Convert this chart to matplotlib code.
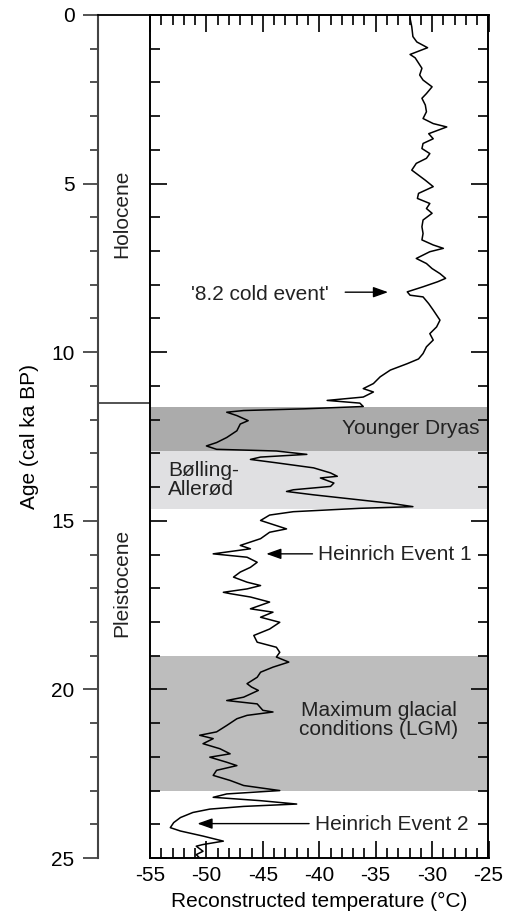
import matplotlib
matplotlib.use("Agg")
import matplotlib.pyplot as plt
from matplotlib.ticker import MultipleLocator

plt.rcParams['font.family'] = ['Liberation Sans', 'DejaVu Sans']
plt.rcParams['axes.unicode_minus'] = False
FS = 15

# reconstructed temperature curve (age in cal ka BP, temperature in °C)
age = [0.10, 0.35, 0.64, 0.80, 0.97, 1.17, 1.27, 1.58, 1.78, 1.93, 2.13, 2.33, 2.47,
       2.67, 2.87, 3.07, 3.22, 3.32, 3.52, 3.67, 3.81, 3.96, 4.11, 4.25, 4.40, 4.60,
       4.70, 4.90, 5.09, 5.29, 5.44, 5.59, 5.74, 5.88, 6.08, 6.28, 6.48, 6.67, 6.82,
       6.92, 7.02, 7.22, 7.37, 7.52, 7.67, 7.81, 7.91, 8.06, 8.21, 8.31, 8.36, 8.56,
       8.75, 8.95, 9.05, 9.25, 9.45, 9.64, 9.84, 10.04, 10.20, 10.34, 10.53, 10.73,
       10.93, 11.08, 11.18, 11.33, 11.43, 11.51, 11.61, 11.68, 11.73, 11.78, 11.88,
       12.03, 12.13, 12.33, 12.53, 12.68, 12.78, 12.88, 12.93, 13.03, 13.11, 13.18,
       13.28, 13.43, 13.58, 13.68, 13.73, 13.88, 13.98, 14.08, 14.13, 14.23, 14.38,
       14.48, 14.58, 14.63, 14.73, 14.83, 14.99, 15.24, 15.34, 15.53, 15.73, 15.83,
       15.98, 16.08, 16.23, 16.38, 16.52, 16.67, 16.82, 16.92, 17.02, 17.12, 17.16,
       17.26, 17.41, 17.61, 17.71, 17.86, 18.01, 18.21, 18.40, 18.60, 18.75, 18.90,
       19.04, 19.19, 19.34, 19.49, 19.64, 19.83, 19.93, 20.03, 20.23, 20.33, 20.43,
       20.62, 20.67, 20.77, 20.87, 21.07, 21.26, 21.36, 21.46, 21.61, 21.76, 21.91,
       22.01, 22.16, 22.26, 22.40, 22.55, 22.70, 22.85, 23.00, 23.10, 23.20, 23.30,
       23.40, 23.47, 23.55, 23.65, 23.80, 23.95, 24.10, 24.20, 24.35, 24.50, 24.60,
       24.65, 24.80, 24.90, 25.00]
temp = [-31.95, -31.8, -31.7, -31.35, -30.4, -31.95, -31.5, -30.9, -31.1, -30.8, -30.0,
        -30.5, -30.9, -30.6, -30.5, -30.8, -29.9, -28.7, -30.3, -29.9, -30.8, -30.9,
        -30.2, -30.5, -31.4, -31.8, -31.4, -30.6, -29.9, -31.2, -31.3, -30.2, -30.5,
        -30.0, -30.8, -30.9, -30.8, -30.9, -29.9, -29.0, -30.2, -31.4, -30.5, -30.0,
        -29.3, -28.8, -29.5, -30.8, -32.2, -31.95, -30.8, -30.3, -29.9, -29.5, -29.3,
        -29.6, -30.2, -29.9, -30.5, -30.8, -31.2, -32.2, -33.7, -34.6, -35.2, -36.1,
        -35.2, -36.1, -39.3, -36.4, -36.1, -41.4, -46.7, -48.2, -47.3, -46.3, -47.0,
        -47.3, -48.2, -49.1, -50.0, -49.1, -43.8, -41.1, -45.2, -46.1, -43.8, -40.5,
        -39.0, -38.4, -39.9, -38.7, -39.0, -42.3, -42.9, -40.5, -36.4, -33.7, -31.7,
        -36.4, -42.3, -44.4, -45.2, -42.9, -44.4, -45.2, -47.0, -46.1, -49.4, -46.4,
        -45.5, -46.1, -47.0, -47.6, -46.4, -45.2, -46.4, -48.5, -47.9, -46.1, -44.4,
        -46.1, -44.1, -45.2, -43.5, -44.4, -45.8, -45.5, -43.8, -43.5, -43.8, -42.7,
        -44.1, -45.2, -45.5, -46.4, -46.0, -45.4, -46.7, -48.2, -45.5, -45.0, -44.1,
        -46.4, -47.3, -48.2, -49.1, -50.6, -49.4, -50.3, -48.8, -47.9, -49.7, -48.2,
        -47.3, -49.1, -49.4, -47.9, -46.7, -43.5, -48.2, -49.4, -45.2, -42.0, -46.7,
        -49.7, -51.2, -52.3, -52.9, -53.2, -52.3, -50.3, -48.5, -50.3, -50.9, -50.3,
        -50.9, -50.6]

# shaded periods
band_names = ['Younger Dryas', 'Bølling-\nAllerød', 'Maximum glacial\nconditions (LGM)']
band_start = [11.62, 12.93, 19.02]
band_end = [12.93, 14.65, 23.0]
band_colors = ['#ababab', '#e0e0e2', '#bdbdbd']

epoch_names = ['Holocene', 'Pleistocene']
epoch_mid = [5.9, 16.85]
epoch_boundary = 11.5

W, H = 507, 915
fig = plt.figure(figsize=(W / 100, H / 100), dpi=100)

left, right, bottom, top = 150 / W, 488.5 / W, 57 / H, 900 / H
ax_ep = fig.add_axes([98 / W, bottom, (150 - 98) / W, top - bottom])
ax = fig.add_axes([left, bottom, right - left, top - bottom])
ax.set_zorder(2)
ax.patch.set_visible(False)

# main panel
for s, e, c in zip(band_start, band_end, band_colors):
    ax.axhspan(s, e, xmin=0, xmax=0.997, color=c, lw=0, zorder=0)
ax.plot(temp, age, color='black', lw=1.1, zorder=3)

ax.set_xlim(-55, -25)
ax.set_ylim(25, 0)
ax.xaxis.set_major_locator(MultipleLocator(5))
ax.xaxis.set_minor_locator(MultipleLocator(1))
ax.yaxis.set_major_locator(MultipleLocator(5))
ax.yaxis.set_minor_locator(MultipleLocator(1))
ax.tick_params(which='both', direction='in', top=True, right=True, left=True,
               bottom=True, labelleft=False, width=1.3, color='#111111')
ax.tick_params(which='major', length=12, pad=6, labelsize=FS)
ax.tick_params(which='minor', length=7)
for sp in ax.spines.values():
    sp.set_linewidth(1.4)
ax.set_xlabel('Reconstructed temperature (°C)', fontsize=FS, labelpad=5)

# annotations
ax.text(-25.8, 12.27, band_names[0], ha='right', va='center', fontsize=FS,
        color='#222222', zorder=4)
ax.text(-53.4, 13.8, band_names[1], ha='left', va='center', fontsize=FS,
        color='#222222', linespacing=1.0, zorder=4)
ax.text(-34.7, 20.9, band_names[2], ha='center', va='center', fontsize=FS,
        color='#222222', linespacing=1.0, zorder=4)

arrow = dict(arrowstyle='-|>,head_length=0.9,head_width=0.32', color='black', lw=1.0,
             shrinkA=0, shrinkB=0)
ax.text(-39.2, 8.28, "'8.2 cold event'", ha='right', va='center', fontsize=FS,
        color='#222222')
ax.annotate('', xy=(-33.9, 8.22), xytext=(-37.7, 8.22), arrowprops=arrow)
ax.text(-40.1, 16.0, 'Heinrich Event 1', ha='left', va='center', fontsize=FS,
        color='#222222')
ax.annotate('', xy=(-44.7, 15.98), xytext=(-40.6, 15.98), arrowprops=arrow)
ax.text(-40.4, 24.0, 'Heinrich Event 2', ha='left', va='center', fontsize=FS,
        color='#222222')
ax.annotate('', xy=(-50.8, 23.98), xytext=(-40.9, 23.98), arrowprops=arrow)

# epoch column
ax_ep.patch.set_visible(False)
ax_ep.set_xlim(0, 1)
ax_ep.set_ylim(25, 0)
ax_ep.spines['bottom'].set_visible(False)
ax_ep.spines['right'].set_visible(False)
ax_ep.spines['left'].set_color('#444444')
ax_ep.spines['left'].set_linewidth(1.5)
ax_ep.spines['top'].set_linewidth(1.3)
ax_ep.set_xticks([])
ax_ep.yaxis.set_major_locator(MultipleLocator(5))
ax_ep.yaxis.set_minor_locator(MultipleLocator(1))
ax_ep.tick_params(axis='y', which='both', direction='out', color='#444444', width=1.3)
ax_ep.tick_params(axis='y', which='major', length=11, pad=6, labelsize=FS)
ax_ep.tick_params(axis='y', which='minor', length=6)
ax_ep.axhline(epoch_boundary, color='#444444', lw=1.3)
for name, mid in zip(epoch_names, epoch_mid):
    ax_ep.text(0.46, mid, name, rotation=90, ha='center', va='center',
               fontsize=FS, color='#222222')
ax_ep.set_ylabel('Age (cal ka BP)', fontsize=FS, labelpad=9)

fig.savefig('out.png', dpi=100)
